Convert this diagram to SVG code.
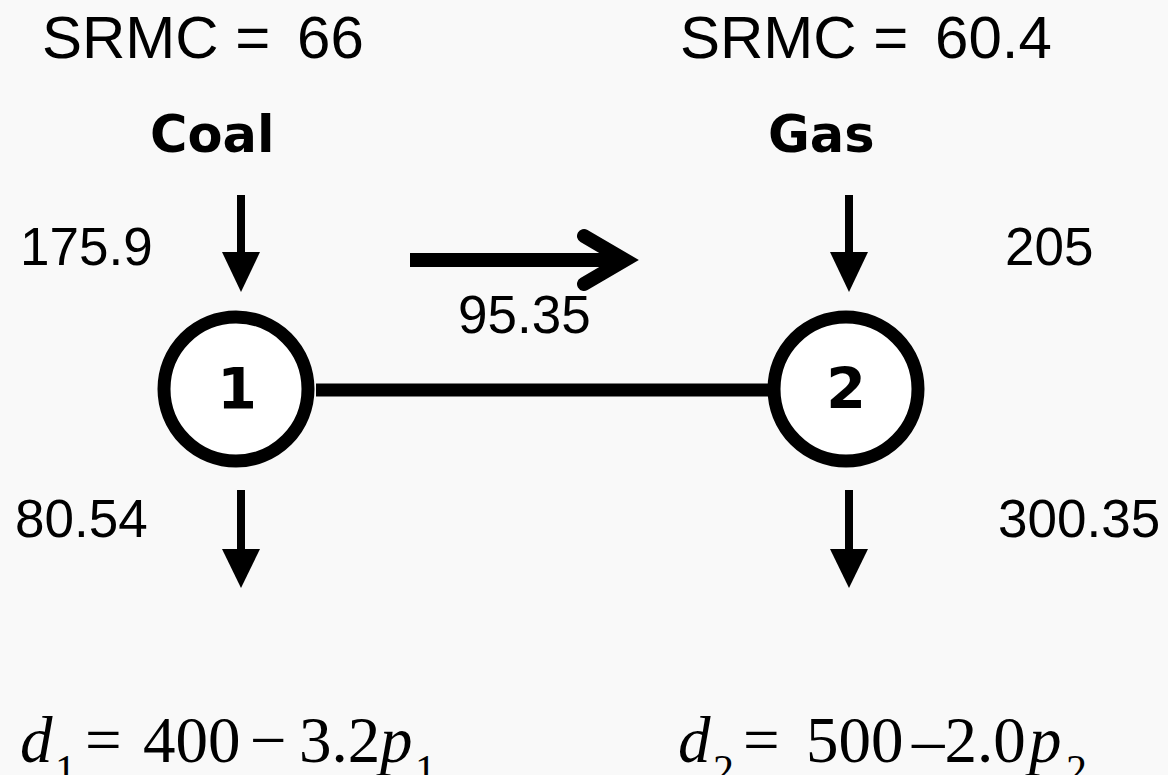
<svg xmlns="http://www.w3.org/2000/svg" width="1168" height="775" viewBox="0 0 1168 775">
<defs>
<style>
.lbl{font-family:"Liberation Sans",Arial,sans-serif;fill:#000}
.big{font-size:60px}
.num{font-size:53px}
.fuel{font-family:"DejaVu Sans",Verdana,sans-serif;font-weight:bold;font-size:51px;fill:#000}
.nid{font-family:"DejaVu Sans",Verdana,sans-serif;font-weight:bold;font-size:57px;fill:#000;text-anchor:middle}
.eq{font-family:"Liberation Serif","Times New Roman",serif;font-size:65px;fill:#000}
.sub{font-size:42px}
.it{font-style:italic}
.bus{fill:#fff;stroke:#000;stroke-width:13}
.shaft{stroke:#000;stroke-width:8;fill:none}
.head{fill:#000}
</style>
</defs>
<rect width="1168" height="775" fill="#f9f9f9"/>
<g id="labels-top">
<text class="lbl big" x="42" y="58">SRMC = <tspan dx="10">66</tspan></text>
<text class="lbl big" x="680" y="58">SRMC = <tspan dx="10">60.4</tspan></text>
</g>
<g id="coal"><text class="fuel" x="150" y="152">Coal</text></g>
<g id="gas"><text class="fuel" x="768" y="152">Gas</text></g>
<g id="connectors">
<line x1="316" y1="390" x2="768" y2="390" stroke="#000" stroke-width="13"/>
<line class="shaft" x1="241" y1="195" x2="241" y2="255"/>
<polygon class="head" points="222,252 260,252 241,292"/>
<line class="shaft" x1="849" y1="195" x2="849" y2="255"/>
<polygon class="head" points="830,252 868,252 849,292"/>
<line class="shaft" x1="241" y1="490" x2="241" y2="552"/>
<polygon class="head" points="222,549 260,549 241,588"/>
<line class="shaft" x1="849" y1="490" x2="849" y2="552"/>
<polygon class="head" points="830,549 868,549 849,588"/>
<line x1="410" y1="260" x2="620" y2="260" stroke="#000" stroke-width="14"/>
<polyline points="584,236 625,260 584,284" fill="none" stroke="#000" stroke-width="14" stroke-linecap="round" stroke-linejoin="miter"/>
</g>
<g id="node1">
<circle class="bus" cx="236" cy="389" r="72"/>
<text class="nid" x="237" y="409">1</text>
</g>
<g id="node2">
<circle class="bus" cx="846" cy="389" r="72"/>
<text class="nid" x="846" y="409">2</text>
</g>
<g id="values">
<text class="lbl num" x="20" y="265">175.9</text>
<text class="lbl num" x="1005" y="265">205</text>
<text class="lbl num" x="458" y="333">95.35</text>
<text class="lbl num" x="15" y="537">80.54</text>
<text class="lbl num" x="998" y="537">300.35</text>
</g>
<g id="demand1">
<text class="eq" y="762"><tspan class="it" x="20">d</tspan><tspan class="sub" x="55" y="784">1</tspan><tspan x="85" y="762">=</tspan><tspan x="143">400</tspan><tspan x="250">−</tspan><tspan x="299">3.2</tspan><tspan class="it" x="380">p</tspan><tspan class="sub" x="415" y="784">1</tspan></text>
</g>
<g id="demand2">
<text class="eq" y="762"><tspan class="it" x="678">d</tspan><tspan class="sub" x="713" y="784">2</tspan><tspan x="743" y="762">=</tspan><tspan x="806">500</tspan><tspan x="912">–2.0</tspan><tspan class="it" x="1029">p</tspan><tspan class="sub" x="1066" y="784">2</tspan></text>
</g>
</svg>
